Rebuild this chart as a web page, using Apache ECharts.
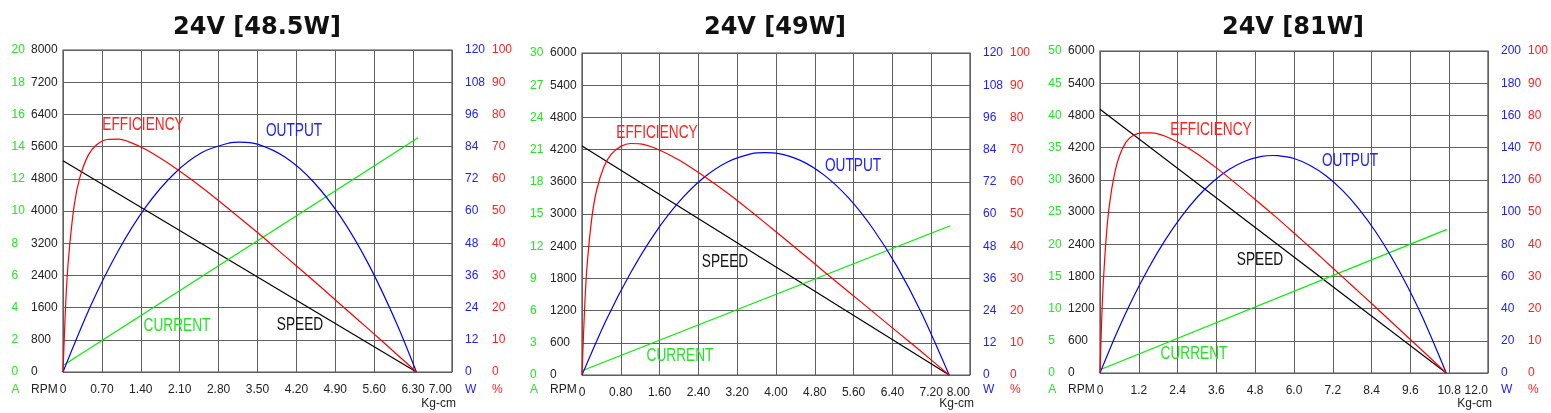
<!DOCTYPE html>
<html><head><meta charset="utf-8">
<script src="https://cdn.jsdelivr.net/npm/echarts@6/dist/echarts.min.js"></script>
<style>html,body{margin:0;padding:0;background:#fff}#c{width:1551px;height:413px}</style>
</head><body><div id="c"></div>
<script>
// ---------- data ----------
const titles = ['24V [48.5W]', '24V [49W]', '24V [81W]'];
const torqueMax = [7.0, 8.0, 12.0];
const torqueStep = [0.7, 0.8, 1.2];
const torqueDecimals = [2, 2, 1];
const ampMax = [20, 30, 50];
const rpmMax = [8000, 6000, 6000];
const wattMax = [120, 120, 200];
const pctMax = [100, 100, 100];
const curveNames = ['EFFICIENCY', 'OUTPUT', 'CURRENT', 'SPEED'];

// panel 1  [torque kg-cm, value]
const speed1 = [[0, 5250], [6.36, 0]];
const current1 = [[0, 0.4], [6.39, 14.55]];
const output1 = [[0,0],[0.5,24.8],[1.0,45.4],[1.5,61.8],[2.0,73.9],[2.5,81.8],[3.0,85.4],[3.18,85.7],[3.5,84.9],[4.0,80.0],[4.5,71.0],[5.0,57.7],[5.5,40.1],[6.0,18.3],[6.36,0]];
const eff1 = [[0,0],[0.05,21.8],[0.1,35.5],[0.2,51.6],[0.3,60.2],[0.45,67.2],[0.6,70.5],[0.8,72.2],[1.0,72.3],[1.2,71.4],[1.5,69.0],[2.0,63.6],[2.5,57.3],[3.0,50.4],[3.5,43.3],[4.0,35.9],[4.5,28.5],[5.0,20.9],[5.5,13.3],[6.0,5.6],[6.36,0]];

// panel 2
const speed2 = [[0, 4267], [7.57, 0]];
const current2 = [[0, 0.4], [7.59, 13.9]];
const output2 = [[0,0],[0.5,20.5],[1.0,38.0],[1.5,52.7],[2.0,64.5],[2.5,73.4],[3.0,79.4],[3.5,82.5],[3.785,82.9],[4.0,82.7],[4.5,80.0],[5.0,74.4],[5.5,65.9],[6.0,54.5],[6.5,40.3],[7.0,23.1],[7.57,0]];
const eff2 = [[0,0],[0.05,19.5],[0.1,33.0],[0.2,48.5],[0.3,57.3],[0.45,64.6],[0.6,68.5],[0.8,71.0],[1.0,71.9],[1.2,71.8],[1.5,70.5],[2.0,66.8],[2.5,61.9],[3.0,56.5],[3.5,50.6],[4.0,44.5],[4.5,38.3],[5.0,32.0],[5.5,25.8],[6.0,19.6],[6.5,13.4],[7.0,7.2],[7.57,0]];

// panel 3
const speed3 = [[0, 4914], [10.71, 0]];
const current3 = [[0, 0.5], [10.73, 22.3]];
const output3 = [[0,0],[0.5,24.1],[1.0,45.8],[1.5,65.1],[2.0,82.1],[2.5,96.7],[3.0,109.0],[3.5,118.9],[4.0,126.5],[4.5,131.7],[5.0,134.5],[5.355,135.1],[5.5,135.0],[6.0,133.2],[6.5,128.9],[7.0,122.4],[7.5,113.4],[8.0,102.1],[8.5,88.5],[9.0,72.5],[9.5,54.2],[10.0,33.5],[10.71,0]];
const eff3 = [[0,0],[0.05,16.1],[0.1,27.7],[0.2,43.2],[0.3,52.9],[0.45,61.9],[0.6,67.4],[0.8,71.6],[1.0,73.6],[1.3,74.6],[1.6,74.6],[2.0,73.6],[2.5,71.2],[3.0,68.1],[3.6,63.7],[4.2,58.9],[4.8,53.9],[5.4,48.8],[6.0,43.5],[6.6,38.1],[7.2,32.6],[7.8,27.1],[8.4,21.6],[9.0,16.0],[9.6,10.4],[10.2,4.8],[10.71,0]];

const speeds = [speed1, speed2, speed3];
const currents = [current1, current2, current3];
const outputs = [output1, output2, output3];
const effs = [eff1, eff2, eff3];

// ---------- layout / style ----------
const grids = [
  {left: 63, top: 50, width: 389, height: 322},
  {left: 582, top: 53, width: 388, height: 322},
  {left: 1100, top: 51, width: 388, height: 322}
];
const titleCenters = [257, 775, 1293];
const greenMargins = [51.5, 52, 51.7];
const labelPos = [
  [[143,125],[294,131],[177,326],[300,325]],
  [[657,133],[853,166],[680,356],[725,262]],
  [[1211,130],[1350,161],[1194,354],[1260,260]]
];
const GREEN = '#22e622', BLUE = '#2020ff', RED = '#ff2020';
const curveColors = [RED, BLUE, GREEN, '#111'];
const FONT = "'Liberation Sans Narrow','Arial Narrow','Liberation Sans',sans-serif";

const chart = echarts.init(document.getElementById('c'), null, {renderer: 'canvas'});

const option = {
  animation: false,
  backgroundColor: '#fff',
  grid: [], xAxis: [], yAxis: [], series: [], graphic: []
};

function yAx(i, max, color, pos, margin, split) {
  return {
    type: 'value', gridIndex: i, min: 0, max: max, interval: max / 10, position: pos,
    axisLine: {show: false}, axisTick: {show: false},
    axisLabel: {color: color, fontFamily: FONT, fontSize: 12, align: 'left', margin: margin,
      showMinLabel: true, showMaxLabel: true, formatter: v => String(Math.round(v))},
    splitLine: {show: split, lineStyle: {color: '#606060', width: 1}}
  };
}

grids.forEach((g, i) => {
  option.grid.push(Object.assign({show: true, borderColor: '#505050', borderWidth: 1.2, backgroundColor: '#fff'}, g));
  const dec = torqueDecimals[i];
  option.xAxis.push({
    type: 'value', gridIndex: i, min: 0, max: torqueMax[i], interval: torqueStep[i],
    axisLine: {show: false}, axisTick: {show: false},
    axisLabel: {color: '#222', fontFamily: FONT, fontSize: 12, margin: 12, alignMaxLabel: 'right',
      formatter: v => (Math.abs(v) < 1e-9 ? '0' : v.toFixed(dec))},
    splitLine: {show: true, lineStyle: {color: '#606060', width: 1}}
  });
  option.yAxis.push(yAx(i, ampMax[i], GREEN, 'left', greenMargins[i], false));
  option.yAxis.push(yAx(i, rpmMax[i], '#222', 'left', 32, true));
  option.yAxis.push(yAx(i, wattMax[i], BLUE, 'right', 13, false));
  option.yAxis.push(yAx(i, pctMax[i], RED, 'right', 40, false));

  const ls = c => ({color: c, width: 1.2});
  option.series.push({type: 'line', xAxisIndex: i, yAxisIndex: 4*i+1, data: speeds[i], showSymbol: false, lineStyle: ls('#000'), z: 3});
  option.series.push({type: 'line', xAxisIndex: i, yAxisIndex: 4*i+0, data: currents[i], showSymbol: false, lineStyle: ls('#00ee00'), z: 3});
  option.series.push({type: 'line', xAxisIndex: i, yAxisIndex: 4*i+2, data: outputs[i], showSymbol: false, smooth: 0.3, lineStyle: ls('#0000ff'), z: 3});
  option.series.push({type: 'line', xAxisIndex: i, yAxisIndex: 4*i+3, data: effs[i], showSymbol: false, smooth: 0.3, lineStyle: ls('#ff0000'), z: 3});

  // title
  option.graphic.push({type: 'text', x: titleCenters[i], y: 28, z: 10,
    style: {text: titles[i], fill: '#111', font: "bold 24px 'DejaVu Sans',sans-serif", align: 'center', verticalAlign: 'middle'}});
  // unit labels
  const right = g.left + g.width;
  const unitY = 390;
  [['A', g.left - greenMargins[i], GREEN], ['RPM', g.left - 32, '#222'], ['W', right + 13, BLUE], ['%', right + 40, RED]].forEach(u => {
    option.graphic.push({type: 'text', x: u[1], y: unitY, z: 10,
      style: {text: u[0], fill: u[2], font: "12px " + FONT, align: 'left', verticalAlign: 'middle'}});
  });
  option.graphic.push({type: 'text', x: right + 4, y: 404, z: 10,
    style: {text: 'Kg-cm', fill: '#222', font: "12px " + FONT, align: 'right', verticalAlign: 'middle'}});
  // curve labels
  curveNames.forEach((n, k) => {
    const p = labelPos[i][k];
    option.graphic.push({type: 'text', x: p[0], y: p[1], scaleX: 0.72, z: 10,
      style: {text: n, fill: curveColors[k], font: "19px 'Liberation Sans',sans-serif", align: 'center', verticalAlign: 'middle'}});
  });
});

chart.setOption(option);
</script>
</body></html>
